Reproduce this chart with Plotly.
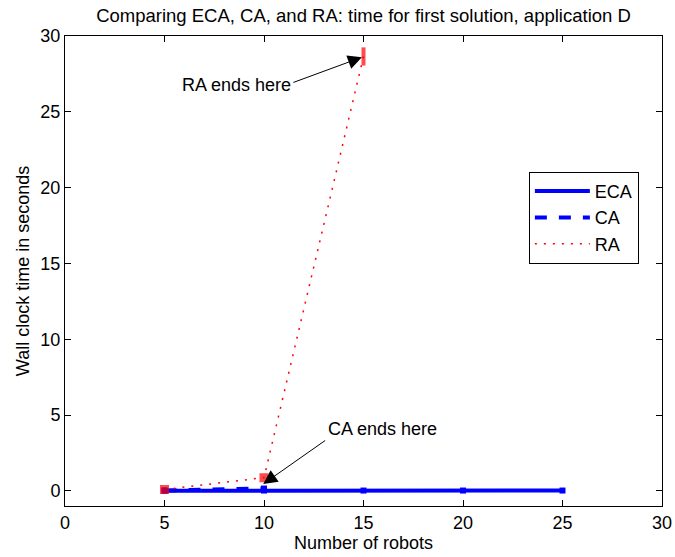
import plotly.graph_objects as go

# Wall clock time (s) to first solution versus team size
robots_eca = [5, 10, 15, 20, 25]
time_eca = [0.01, 0.02, 0.02, 0.02, 0.02]

robots_ca = [5, 10]
time_ca = [0.03, 0.15]

robots_ra = [5, 10, 15]
time_ra = [0.09, 0.87, 28.65]

x_ticks = [0, 5, 10, 15, 20, 25, 30]
y_ticks = [0, 5, 10, 15, 20, 25, 30]

FONT = "Liberation Sans, Arial, Helvetica, sans-serif"
BLUE = "#0000ff"
RED = "#ff0000"

fig = go.Figure()

# Lines (shown in the legend)
fig.add_trace(go.Scatter(
    x=robots_eca, y=time_eca, name="ECA", mode="lines",
    line=dict(color=BLUE, width=4),
))
fig.add_trace(go.Scatter(
    x=robots_ca, y=time_ca, name="CA", mode="lines",
    line=dict(color=BLUE, width=4, dash="dash"),
))
fig.add_trace(go.Scatter(
    x=robots_ra, y=time_ra, name="RA", mode="lines",
    line=dict(color=RED, width=1.5, dash="2px,7px"),
))

# Point markers on each series
fig.add_trace(go.Scatter(
    x=robots_eca, y=time_eca, mode="markers", showlegend=False, hoverinfo="skip",
    marker=dict(symbol="square", size=6, color=BLUE),
))
fig.add_trace(go.Scatter(
    x=robots_ca, y=time_ca, mode="markers", showlegend=False, hoverinfo="skip",
    marker=dict(symbol="square", size=6, color=BLUE),
))
fig.add_trace(go.Scatter(
    x=robots_ra, y=time_ra, mode="markers", showlegend=False, hoverinfo="skip",
    marker=dict(symbol=["square", "square", "line-ns"], size=[5, 5, 13],
                color=RED, line=dict(color=RED, width=4)),
))

# Callouts marking where each method stops producing results
fig.add_annotation(x=8.62, y=26.75, text="RA ends here", showarrow=False,
                   font=dict(family=FONT, size=18, color="black"))
fig.add_annotation(x=14.92, y=28.6, ax=11.4, ay=26.9, axref="x", ayref="y",
                   text="", showarrow=True, arrowhead=2, arrowsize=2.8,
                   arrowwidth=1, arrowcolor="black", standoff=0)
fig.add_annotation(x=15.93, y=4.05, text="CA ends here", showarrow=False,
                   font=dict(family=FONT, size=18, color="black"))
fig.add_annotation(x=9.96, y=0.45, ax=13.15, ay=3.39, axref="x", ayref="y",
                   text="", showarrow=True, arrowhead=2, arrowsize=2.8,
                   arrowwidth=1, arrowcolor="black", standoff=0)

axis_common = dict(
    showgrid=False, zeroline=False, showline=True, mirror="ticks",
    linecolor="black", linewidth=1, ticks="inside", ticklen=6,
    tickcolor="black", tickfont=dict(family=FONT, size=18, color="black"),
    automargin=False,
)

fig.update_layout(
    width=675, height=557,
    margin=dict(l=65, r=13, t=36, b=51),
    paper_bgcolor="white", plot_bgcolor="white",
    title=dict(text="Comparing ECA, CA, and RA: time for first solution, application D",
               x=0.5, xref="paper", xanchor="center", y=0.973, yanchor="middle",
               font=dict(family=FONT, size=18.5, color="black"), automargin=False),
    xaxis=dict(range=[0, 30], tickvals=x_ticks,
               title=dict(text="Number of robots", standoff=2,
                          font=dict(family=FONT, size=18, color="black")),
               **axis_common),
    yaxis=dict(range=[-1, 30], tickvals=y_ticks,
               title=dict(text="Wall clock time in seconds", standoff=6,
                          font=dict(family=FONT, size=18, color="black")),
               **axis_common),
    legend=dict(x=0.777, y=0.711, xanchor="left", yanchor="top",
                bgcolor="white", bordercolor="black", borderwidth=1,
                itemwidth=55,
                font=dict(family=FONT, size=18, color="black")),
    showlegend=True,
)

fig.write_html("out.html")
